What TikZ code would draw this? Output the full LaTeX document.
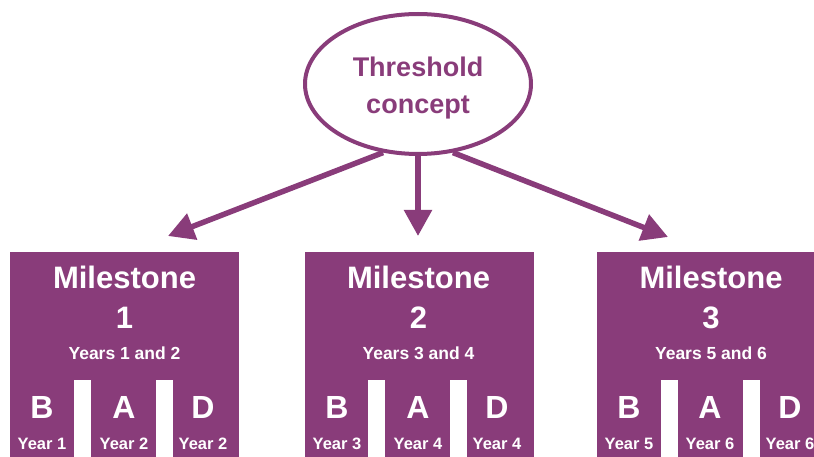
\documentclass[tikz,border=0pt]{standalone}
\usepackage{fontspec}
\setmainfont{Liberation Sans}
\usetikzlibrary{positioning,shapes.geometric,arrows.meta}
\definecolor{plum}{RGB}{137,60,122}

\begin{document}
\begin{tikzpicture}[x=1pt,y=-1pt,
	mbox/.style={fill=plum,minimum width=229pt,minimum height=230pt,inner sep=0pt,anchor=north west},
	slot/.style={fill=white,minimum width=17pt,minimum height=90pt,inner sep=0pt,anchor=north west},
	title/.style={text=white,font=\fontsize{31}{31}\selectfont\bfseries},
	sub/.style={text=white,font=\fontsize{17.5}{17.5}\selectfont\bfseries},
	letter/.style={text=white,font=\fontsize{32}{32}\selectfont\bfseries},
	yr/.style={text=white,font=\fontsize{16.5}{16.5}\selectfont\bfseries},
	arr/.style={draw=plum,line width=5.5pt,-{Triangle[length=26pt,width=27pt]}}]
		\clip (0,0) rectangle (814,457);
		
		\node[draw=plum,line width=4pt,ellipse,minimum width=226pt,minimum height=140pt] (th) at (418,84) {};
		\node[text=plum,align=center,font=\fontsize{27}{37}\selectfont\bfseries] (thx) at (418,88) {Threshold\\concept};
		
		\coordinate (t1) at (168,236);
		\coordinate (t2) at (418,236);
		\coordinate (t3) at (668,237);
		
		% milestone 1
		\node[mbox] (m1) at (10,252) {};
		\node[slot] (m1s1) at (74,380) {};
		\node[slot] (m1s2) at (156,380) {};
		\node[title] (m1a) at (124.5,277) {Milestone};
		\node[title] (m1b) at (124.5,318) {1};
		\node[sub] (m1c) at (124.5,353) {Years 1 and 2};
		\node[letter] (m1B) at (42,407) {B};
		\node[letter] (m1A) at (124,407) {A};
		\node[letter] (m1D) at (203,407) {D};
		\node[yr] (m1y1) at (42,444) {Year 1};
		\node[yr] (m1y2) at (124,444) {Year 2};
		\node[yr] (m1y3) at (203,444) {Year 2};
		
		% milestone 2
		\node[mbox] (m2) at (305,252) {};
		\node[slot] (m2s1) at (368,380) {};
		\node[slot] (m2s2) at (450,380) {};
		\node[title] (m2a) at (418.5,277) {Milestone};
		\node[title] (m2b) at (418.5,318) {2};
		\node[sub] (m2c) at (418.5,353) {Years 3 and 4};
		\node[letter] (m2B) at (337,407) {B};
		\node[letter] (m2A) at (418,407) {A};
		\node[letter] (m2D) at (497,407) {D};
		\node[yr] (m2y1) at (337,444) {Year 3};
		\node[yr] (m2y2) at (418,444) {Year 4};
		\node[yr] (m2y3) at (497,444) {Year 4};
		
		% milestone 3
		\node[mbox] (m3) at (597,252) {};
		\node[slot] (m3s1) at (661,380) {};
		\node[slot] (m3s2) at (743,380) {};
		\node[title] (m3a) at (711,277) {Milestone};
		\node[title] (m3b) at (711,318) {3};
		\node[sub] (m3c) at (711,353) {Years 5 and 6};
		\node[letter] (m3B) at (629,407) {B};
		\node[letter] (m3A) at (710,407) {A};
		\node[letter] (m3D) at (790,407) {D};
		\node[yr] (m3y1) at (629,444) {Year 5};
		\node[yr] (m3y2) at (710,444) {Year 6};
		\node[yr] (m3y3) at (790,444) {Year 6};
		
		\path[arr] (th.243) -- (t1);
		\path[arr] (th.south) -- (t2);
		\path[arr] (th.297) -- (t3);
	\end{tikzpicture}
\end{document}
